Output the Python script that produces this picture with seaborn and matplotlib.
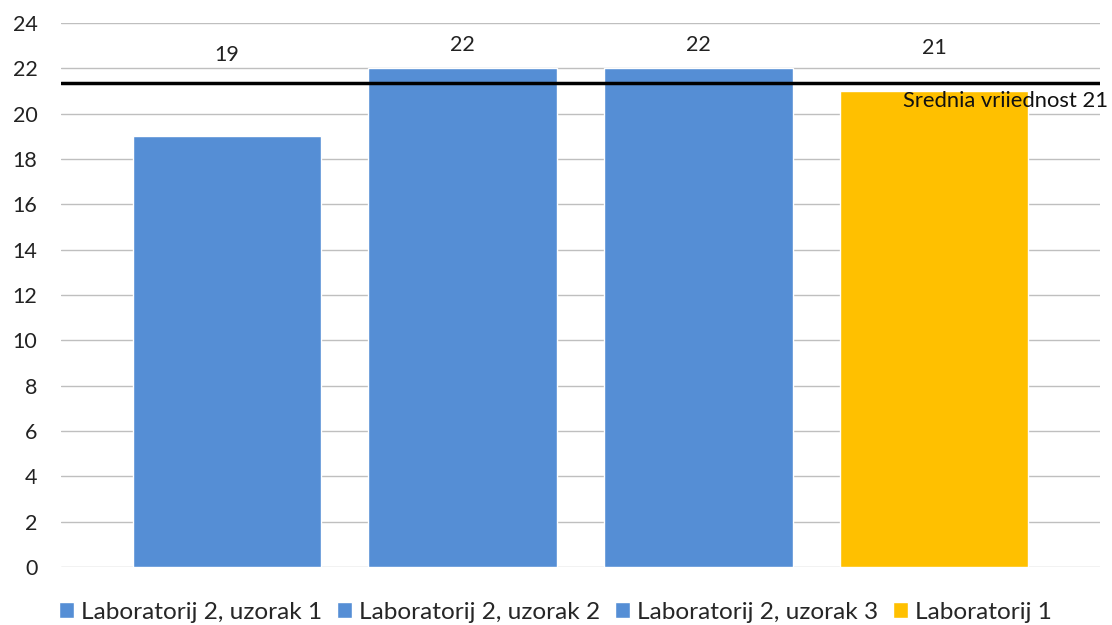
import numpy as np
import pandas as pd
import seaborn as sns
import matplotlib
matplotlib.use('Agg')
import matplotlib.pyplot as plt

# Chart data
categories = ['Laboratorij 2, uzorak 1', 'Laboratorij 2, uzorak 2',
              'Laboratorij 2, uzorak 3', 'Laboratorij 1']
values = [19, 22, 22, 21]
colors = ['#558ed5', '#558ed5', '#558ed5', '#ffc000']
mean_value = 21.35
mean_label = 'Srednia vriiednost 21'
y_ticks = list(range(0, 25, 2))

sns.set_theme(style='white')
plt.rcParams['font.family'] = ['Lato', 'DejaVu Sans']

fig = plt.figure(figsize=(11.12, 6.25), dpi=100)
ax = fig.add_axes([0.0549, 0.0928, 0.9343, 0.8704])

df = pd.DataFrame({'cat': categories, 'val': values})
sns.barplot(data=df, x='cat', y='val', hue='cat', palette=colors,
            width=0.8, saturation=1, legend=True, ax=ax)

# Axes styling
ax.set_ylim(0, 24)
ax.set_xlim(-0.705, 3.705)
ax.set_yticks(y_ticks)
ax.set_xticks([])
ax.set_xlabel('')
ax.set_ylabel('')
ax.yaxis.grid(True, color='#bfbfbf', lw=1)
ax.set_axisbelow(True)
for s in ax.spines.values():
    s.set_visible(False)
ax.tick_params(axis='y', length=0, pad=17, labelsize=15.5, labelcolor='#222222')

# Value labels
for i, v in enumerate(values):
    ax.text(i, 23.05 - (22 - v) * 0.15, str(v), ha='center', va='center',
            fontsize=15.5, color='#222222')

# Mean line
ax.axhline(mean_value, color='black', lw=2.5, zorder=5)
ax.text(3.74, 20.55, mean_label, ha='right', va='center', fontsize=15.8,
        color='#111111', clip_on=False, zorder=6)

# Legend at bottom
sns.move_legend(ax, 'lower center', bbox_to_anchor=(0.476, -0.12), ncol=4,
                frameon=False, title=None, fontsize=17.6, handlelength=0.6,
                handleheight=0.6, handletextpad=0.3, columnspacing=0.6,
                borderaxespad=0)

fig.savefig('out.png', dpi=100)
plt.close(fig)
